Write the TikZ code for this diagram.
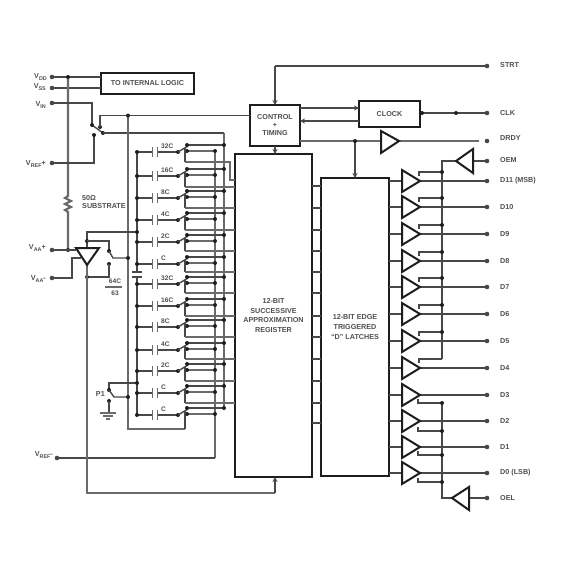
\documentclass[tikz,border=0pt]{standalone}
\usepackage{fontspec}
\setmainfont{Liberation Sans}
\usetikzlibrary{arrows.meta}
\definecolor{ink}{HTML}{1E1E1E}
\definecolor{wireg}{HTML}{484848}
\definecolor{busg}{HTML}{6A6A6A}
\definecolor{txt}{HTML}{505050}
\newcommand{\Vsub}[1]{V{\fontsize{5.4}{6}\selectfont\raisebox{-1.2pt}{#1}}}
\tikzset{
  wire/.style={draw=wireg,line width=1.4pt},
  bus/.style={draw=busg,line width=2.1pt},
  arr/.style={wire,-{Stealth[length=5pt,width=5pt]}},
  boxn/.style={draw=ink,line width=2.2pt,fill=white,inner sep=0pt,outer sep=0pt,align=center,font=\bfseries\fontsize{7.2}{8}\selectfont,text=txt},
  pinn/.style={circle,fill=wireg,inner sep=0pt,minimum size=4.6pt,outer sep=0pt},
  lab/.style={font=\bfseries\fontsize{7.2}{8}\selectfont,text=txt,inner sep=0pt},
  tri/.style={draw=ink,line width=2pt,fill=white,line join=miter},
  capn/.style={font=\bfseries\fontsize{6.6}{7}\selectfont,text=txt,inner sep=0pt},
}
\newcommand{\jdot}[1]{\fill[ink] #1 circle (2pt);}
\begin{document}
\begin{tikzpicture}[x=1pt,y=-1pt]
\useasboundingbox (0,0) rectangle (568,568);
\fill[white] (0,0) rectangle (568,568);

% boxes
\node[boxn,minimum width=93pt,minimum height=21pt] (logic) at (147.5,83.5) {TO INTERNAL LOGIC};
\node[boxn,minimum width=50pt,minimum height=41pt] (ctrl) at (275,125.5) {CONTROL\\+\\TIMING};
\node[boxn,minimum width=61pt,minimum height=26pt] (clock) at (389.5,114) {CLOCK};
\node[boxn,minimum width=77pt,minimum height=323pt,font=\bfseries\fontsize{7.2}{9.8}\selectfont] (reg) at (273.5,315.5) {12-BIT\\SUCCESSIVE\\APPROXIMATION\\REGISTER};
\node[boxn,minimum width=68pt,minimum height=298pt,font=\bfseries\fontsize{7.2}{9.6}\selectfont] (latch) at (355,327) {12-BIT EDGE\\TRIGGERED\\“D” LATCHES};

% left pins
\node[pinn] (vdd) at (52,77) {};
\node[pinn] (vss) at (52,88) {};
\node[pinn] (vin) at (52,103) {};
\node[pinn] (vrefp) at (52,163) {};
\node[pinn] (vaap) at (52,250) {};
\node[pinn] (vaam) at (52,278) {};
\node[pinn] (vrefm) at (57,458) {};
\node[lab,anchor=east] (lvdd) at (47,77) {\Vsub{DD}};
\node[lab,anchor=east] (lvss) at (46,87) {\Vsub{SS}};
\node[lab,anchor=east] (lvin) at (46,105) {\Vsub{IN}};
\node[lab,anchor=east] (lvrefp) at (46,164) {\Vsub{REF}+};
\node[lab,anchor=east] (lvaap) at (46,248) {\Vsub{AA}+};
\node[lab,anchor=east] (lvaam) at (46,279) {\Vsub{AA}-};
\node[lab,anchor=east] (lvrefm) at (53,455) {\Vsub{REF}-};

\draw[wire] (vdd) -- (logic.west |- vdd);
\draw[wire] (vss) -- (logic.west |- vss);

% supply rail with resistor
\coordinate (railtop) at (68,77);
\coordinate (railbot) at (68,250);
\draw[bus] (railtop) -- (68,196) -- (65,198) -- (71,201) -- (65,204) -- (71,207) -- (65,210) -- (68,212) -- (railbot);
\jdot{(railtop)}\jdot{(railbot)}
\node[lab,anchor=west] (rlab) at (82,198) {50Ω};
\node[lab,anchor=west] (slab) at (82,206) {SUBSTRATE};

% input switch
\coordinate (swa) at (92,125);
\coordinate (swb) at (103,133);
\coordinate (swc) at (100,127);
\coordinate (swd) at (94,135);
\draw[wire] (vin) -- (92,103) -- (swa);
\draw[wire] (vrefp) -- (94,163) -- (swd);
\draw[wire] (swa) -- (swb);
\jdot{(swa)}\jdot{(swb)}\jdot{(swc)}\jdot{(swd)}
\draw[wire] (swc) -- (100,115.5) -- (ctrl.west |- 0,115.5);
\draw[wire] (swb) -- (224,133);

% vertical buses
\draw[bus] (128,115.5) -- (128,429) -- (185,429);
\jdot{(128,115.5)}
\draw[wire] (137,152) -- (137,272);
\draw[wire] (137,277) -- (137,415);
\draw[wire,line width=1.7pt] (132,272) -- (142,272) (132,277) -- (142,277);
\draw[bus] (224,133) -- (224,408);
\draw[bus] (215,151) -- (215,458);
\draw[wire] (vrefm) -- (215,458);

% capacitor rows
\foreach \yy/\cc/\ct in {152/32C/162,176/16C/187,198/8C/208,220/4C/230,242/2C/251,264/C/272,284/32C/293,306/16C/316,327/8C/337,350/4C/359,371/2C/381,393/C/403,415/C/429}{
  \draw[wire] (137,\yy) -- (152,\yy);
  \draw[wire] (158,\yy) -- (178,\yy);
  \draw[draw=busg,line width=1.6pt] (152.5,\yy-5) -- (152.5,\yy+5) (157.5,\yy-5) -- (157.5,\yy+5);
  \node[capn,anchor=west] at (161,\yy-6) {\cc};
  \jdot{(137,\yy)}
  \jdot{(178,\yy)}
  \draw[wire] (178,\yy) -- (188,\yy-6);
  \draw[wire] (187,\yy-7) -- (224,\yy-7);
  \draw[bus,line width=1.7pt] (187,\yy-1) -- (215,\yy-1);
  \jdot{(187,\yy-7)}
  \jdot{(187,\yy-1)}
  \jdot{(224,\yy-7)}
  \jdot{(215,\yy-1)}
  \draw[wire] (185,\yy-4) -- (185,\ct);
}
\draw[bus,line width=1.7pt] (185,162) -- (230,162) -- (230,180) -- (reg.west |- 0,180);
\foreach \ct in {187,208,230,251,272,293,316,337,359,381,403}{
  \draw[bus,line width=1.7pt] (185,\ct) -- (reg.west |- 0,\ct);
}

% amplifier
\coordinate (ampa) at (76,248);
\coordinate (ampb) at (99,248);
\coordinate (ampc) at (87,265);
\draw[wire] (vaap) -- (76,250);
\draw[wire] (vaam) -- (72,278) -- (72,258) -- (81,258);
\draw[wire] (87,248) -- (87,232) -- (137,232);
\jdot{(137,232)}\jdot{(87,241)}
\draw[wire] (87,241) -- (109,241) -- (109,251);
\jdot{(109,251)}\jdot{(109,264)}
\draw[wire] (109,251) -- (113,258) -- (128,258);
\jdot{(128,258)}
\draw[wire] (109,264) -- (109,277) -- (87,277);
\jdot{(87,277)}
\draw[bus] (ampc) -- (87,493) -- (275,493);
\draw[arr] (275,493) -- (reg.south -| 275,0);
\draw[tri] (ampa) -- (ampb) -- (ampc) -- cycle;
\node[capn] (c64) at (115,281) {64C};
\draw[bus] (105,287) -- (122,287);
\node[capn] (c63) at (115,293) {63};

% P1 switch
\draw[wire] (137,383) -- (109,383) -- (109,390);
\jdot{(137,383)}\jdot{(109,390)}\jdot{(109,401)}
\draw[wire] (109,390) -- (114,397) -- (128,397);
\jdot{(128,397)}
\draw[wire] (109,401) -- (109,412);
\draw[bus] (100,413) -- (116,413);
\draw[bus] (103,416) -- (113,416);
\draw[bus] (106,419) -- (110,419);
\node[lab,anchor=east] (p1) at (105,394) {P1};

% control
\node[pinn] (strt) at (487,66) {};
\node[lab,anchor=west] (lstrt) at (500,65) {STRT};
\draw[wire] (strt) -- (275,66);
\draw[arr] (275,66) -- (ctrl.north);
\draw[arr] (ctrl.south) -- (reg.north -| ctrl.south);
\draw[arr] (ctrl.east |- 0,108) -- (clock.west |- 0,108);
\draw[arr] (clock.west |- 0,121) -- (ctrl.east |- 0,121);
\node[pinn] (clk) at (487,113) {};
\node[lab,anchor=west] (lclk) at (500,113) {CLK};
\draw[wire] (clk) -- (clock.east |- clk);
\jdot{(456,113)}
\jdot{(422,113)}

% DRDY
\node[pinn] (drdy) at (487,141) {};
\node[lab,anchor=west] (ldrdy) at (500,138) {DRDY};
\draw[bus] (ctrl.east |- 0,141) -- (381,141);
\draw[bus] (399,141) -- (479,141);
\draw[tri] (381,131) -- (399,141) -- (381,153) -- cycle;
\draw[arr] (355,141) -- (latch.north -| 355,0);
\jdot{(355,141)}

% OEM
\node[pinn] (oem) at (487,161) {};
\node[lab,anchor=west] (loem) at (500,160) {OEM};
\draw[wire] (oem) -- (473,161);
\draw[wire] (456,161) -- (442,161) -- (442,359);
\draw[tri] (473,149) -- (456,161) -- (473,173) -- cycle;

% OEL
\node[pinn] (oel) at (487,498) {};
\node[lab,anchor=west] (loel) at (500,498) {OEL};
\draw[wire] (oel) -- (469,498);
\draw[wire] (452,498) -- (442,498) -- (442,403);
\draw[tri] (469,487) -- (452,498) -- (469,510) -- cycle;

% register to latch
\foreach \yy in {186,208,230,251,272,293,316,337,359,381,403,423}{
  \draw[wire] (reg.east |- 0,\yy) -- (latch.west |- 0,\yy);
}

% output buffers
\foreach \yy/\tt in {181/D11 (MSB),207/D10,234/D9,261/D8,287/D7,314/D6,341/D5,368/D4,395/D3,421/D2,447/D1,473/D0 (LSB)}{
  \draw[wire] (latch.east |- 0,\yy) -- (402,\yy);
  \draw[wire] (420,\yy) -- (487,\yy);
  \fill[wireg] (487,\yy) circle (2.3pt);
  \draw[tri] (402,\yy-11) -- (420,\yy) -- (402,\yy+11) -- cycle;
  \node[lab,anchor=west] at (500,\yy) {\tt};
}
\foreach \yy in {172,198,225,252,278,305,332}{
  \draw[wire] (419,\yy+4) -- (419,\yy) -- (442,\yy);
  \jdot{(442,\yy)}
}
\draw[wire] (419,363) -- (419,359) -- (442,359);
\foreach \yy in {403,431,455,482}{
  \draw[wire] (418,\yy-4) -- (418,\yy) -- (442,\yy);
  \jdot{(442,\yy)}
}
\end{tikzpicture}
\end{document}
